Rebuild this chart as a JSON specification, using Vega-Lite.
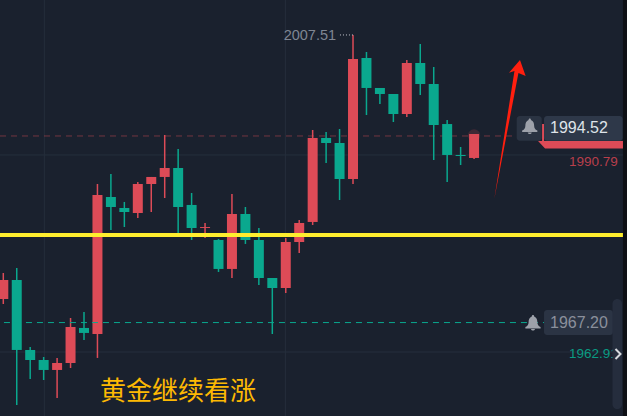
{"$schema":"https://vega.github.io/schema/vega-lite/v6.json","width":627,"height":416,"padding":0,"autosize":{"type":"none"},"background":"#1a212e","config":{"view":{"stroke":null},"axis":{"disable":true},"legend":{"disable":true},"text":{"font":"Liberation Sans"},"scale":{"continuousPadding":0}},
"datasets":{"one":[{}],"gridx":[{"gx":3.05},{"gx":20.97}],"gridy":[{"gy":1991.74},{"gy":1962.89}],
"candles":[
{"i":0,"open":1970.65,"high":1974.46,"low":1969.92,"close":1973.43},
{"i":1,"open":1973.43,"high":1975.19,"low":1955.13,"close":1963.19},
{"i":2,"open":1963.19,"high":1963.63,"low":1958.94,"close":1961.72},
{"i":3,"open":1961.72,"high":1962.16,"low":1958.79,"close":1960.26},
{"i":4,"open":1960.26,"high":1962.02,"low":1956.16,"close":1961.28},
{"i":5,"open":1961.28,"high":1967.87,"low":1960.55,"close":1966.55},
{"i":6,"open":1966.41,"high":1968.75,"low":1964.65,"close":1965.68},
{"i":7,"open":1965.53,"high":1987.49,"low":1962.02,"close":1985.88},
{"i":8,"open":1985.59,"high":1988.95,"low":1980.76,"close":1984.12},
{"i":9,"open":1983.98,"high":1984.86,"low":1981.19,"close":1983.39},
{"i":10,"open":1983.24,"high":1987.78,"low":1982.51,"close":1987.49},
{"i":11,"open":1987.49,"high":1988.52,"low":1983.39,"close":1988.52},
{"i":12,"open":1988.52,"high":1994.66,"low":1985.44,"close":1989.83},
{"i":13,"open":1989.83,"high":1992.61,"low":1980.17,"close":1984.12},
{"i":14,"open":1984.42,"high":1986.17,"low":1979.29,"close":1981.05},
{"i":15,"open":1981.05,"high":1981.78,"low":1979.58,"close":1981.19},
{"i":16,"open":1979.29,"high":1979.44,"low":1974.61,"close":1975.05},
{"i":17,"open":1975.05,"high":1986.03,"low":1973.73,"close":1983.1},
{"i":18,"open":1983.1,"high":1984.12,"low":1978.71,"close":1979.29},
{"i":19,"open":1979.29,"high":1981.05,"low":1972.7,"close":1973.73},
{"i":20,"open":1973.73,"high":1973.73,"low":1965.53,"close":1972.26},
{"i":21,"open":1972.26,"high":1979.58,"low":1971.53,"close":1979},
{"i":22,"open":1979,"high":1982.22,"low":1977.39,"close":1981.78},
{"i":23,"open":1981.93,"high":1995.4,"low":1981.49,"close":1994.23},
{"i":24,"open":1994.23,"high":1995.1,"low":1990.57,"close":1993.49},
{"i":25,"open":1993.49,"high":1995.54,"low":1985.15,"close":1988.22},
{"i":26,"open":1988.22,"high":2009.31,"low":1987.49,"close":2005.79},
{"i":27,"open":2005.94,"high":2006.82,"low":1997.59,"close":2001.55},
{"i":28,"open":2001.55,"high":2001.55,"low":1999.2,"close":2000.67},
{"i":29,"open":2000.67,"high":2000.67,"low":1996.57,"close":1997.74},
{"i":30,"open":1997.74,"high":2005.65,"low":1997.3,"close":2005.21},
{"i":31,"open":2005.21,"high":2007.99,"low":2000.52,"close":2002.13},
{"i":32,"open":2002.13,"high":2004.62,"low":1991,"close":1996.13},
{"i":33,"open":1996.27,"high":1996.86,"low":1987.78,"close":1991.74},
{"i":34,"open":1991.74,"high":1992.91,"low":1990.27,"close":1991.59},
{"i":35,"open":1991.3,"high":1994.81,"low":1991.15,"close":1994.81}
]},
"layer":[
{"data":{"name":"gridx"},"mark":{"type":"rule","stroke":"#252e3c","strokeWidth":1},"encoding":{"x":{"field":"gx","type":"quantitative","scale":{"domain":[-0.245,46.37],"nice":false,"zero":false,"padding":0}}}},
{"data":{"name":"gridy"},"mark":{"type":"rule","stroke":"#252e3c","strokeWidth":1},"encoding":{"y":{"field":"gy","type":"quantitative","scale":{"domain":[1953.52,2014.43],"nice":false,"zero":false,"padding":0}}}},
{"data":{"name":"one"},"mark":{"type":"rule","stroke":"#dd4b57","opacity":0.45,"strokeWidth":1,"strokeDash":[6,5]},"encoding":{"x":{"datum":-0.245},"x2":{"datum":38.2},"y":{"datum":1994.52}}},
{"data":{"name":"candles"},"mark":{"type":"rule","strokeWidth":1.5},"encoding":{"x":{"field":"i","type":"quantitative"},"y":{"field":"low","type":"quantitative"},"y2":{"field":"high"},"color":{"condition":{"test":"datum.close>=datum.open","value":"#dd4b57"},"value":"#0aa88e"}}},
{"data":{"name":"candles"},"mark":{"type":"bar","width":10},"encoding":{"x":{"field":"i","type":"quantitative"},"y":{"field":"open","type":"quantitative"},"y2":{"field":"close"},"color":{"condition":{"test":"datum.close>=datum.open","value":"#dd4b57"},"value":"#0aa88e"}}},
{"data":{"name":"one"},"mark":{"type":"point","filled":true,"size":150,"opacity":0.2,"color":"#dd4b57","stroke":null},"encoding":{"x":{"datum":35},"y":{"datum":1994.6}}},
{"data":{"name":"one"},"mark":{"type":"point","filled":true,"size":60,"opacity":1,"color":"#dd4b57","stroke":null},"encoding":{"x":{"datum":35},"y":{"datum":1994.05}}},
{"data":{"name":"one"},"mark":{"type":"rule","stroke":"#0aa88e","strokeWidth":1,"strokeDash":[6,5]},"encoding":{"x":{"datum":0.05},"x2":{"datum":40.2},"y":{"datum":1967.2}}},
{"data":{"name":"one"},"mark":{"type":"rule","stroke":"#ffee2e","strokeWidth":4},"encoding":{"x":{"datum":-0.245},"x2":{"datum":46.07},"y":{"datum":1980.02}}},
{"data":{"name":"one"},"mark":{"type":"rule","stroke":"#c5c8cf","strokeWidth":1,"strokeDash":[1,2]},"encoding":{"x":{"datum":25.03},"x2":{"datum":26},"y":{"datum":2009.31}}},
{"data":{"name":"one"},"mark":{"type":"text","text":"2007.51","align":"right","baseline":"middle","fontSize":14.5,"color":"#7f8693"},"encoding":{"x":{"datum":24.74},"y":{"datum":2009.16}}},
{"data":{"name":"one"},"mark":{"type":"point","filled":true,"opacity":1,"size":19600,"color":"#ff1f0f","stroke":null,"shape":"M0.143,-1 L0.224,-0.771 L0.121,-0.814 L-0.224,0.986 L0.064,-0.843 L-0.014,-0.819 Z"},"encoding":{"x":{"datum":37.67},"y":{"datum":1995.4}}},
{"data":{"name":"one"},"mark":{"type":"point","filled":true,"opacity":1,"size":8100,"color":"#dd4b57","stroke":null,"shape":"M-0.844,-0.267 L-0.8,-0.267 L-0.8,0.111 L0.956,0.111 L0.956,0.278 L-0.778,0.278 L-0.933,0.111 L-0.844,0.111 Z"},"encoding":{"x":{"datum":42.88},"y":{"datum":1994.52}}},
{"data":{"name":"one"},"mark":{"type":"rect","color":"#2a3342","cornerRadius":3},"encoding":{"x":{"datum":38.17},"x2":{"datum":40.03},"y":{"datum":1997.45},"y2":{"datum":1993.83}}},
{"data":{"name":"one"},"mark":{"type":"rect","color":"#2e3849","cornerRadius":3},"encoding":{"x":{"datum":40.2},"x2":{"datum":46.05},"y":{"datum":1997.45},"y2":{"datum":1993.83}}},
{"data":{"name":"one"},"mark":{"type":"rect","color":"#2b3444","cornerRadius":3},"encoding":{"x":{"datum":40.2},"x2":{"datum":45.33},"y":{"datum":1969.04},"y2":{"datum":1965.38}}},
{"data":{"name":"one"},"mark":{"type":"point","filled":true,"opacity":1,"size":256,"color":"#9da1aa","stroke":null,"shape":"M0,-1 C0.1,-1 0.15,-0.92 0.15,-0.82 C0.45,-0.7 0.55,-0.4 0.55,-0.1 C0.55,0.2 0.65,0.35 0.95,0.5 L0.95,0.68 L-0.95,0.68 L-0.95,0.5 C-0.65,0.35 -0.55,0.2 -0.55,-0.1 C-0.55,-0.4 -0.45,-0.7 -0.15,-0.82 C-0.15,-0.92 -0.1,-1 0,-1 Z M-0.25,0.75 L0.25,0.75 C0.2,1 -0.2,1 -0.25,0.75 Z"},"encoding":{"x":{"datum":39.14},"y":{"datum":1995.91}}},
{"data":{"name":"one"},"mark":{"type":"point","filled":true,"opacity":1,"size":256,"color":"#9da1aa","stroke":null,"shape":"M0,-1 C0.1,-1 0.15,-0.92 0.15,-0.82 C0.45,-0.7 0.55,-0.4 0.55,-0.1 C0.55,0.2 0.65,0.35 0.95,0.5 L0.95,0.68 L-0.95,0.68 L-0.95,0.5 C-0.65,0.35 -0.55,0.2 -0.55,-0.1 C-0.55,-0.4 -0.45,-0.7 -0.15,-0.82 C-0.15,-0.92 -0.1,-1 0,-1 Z M-0.25,0.75 L0.25,0.75 C0.2,1 -0.2,1 -0.25,0.75 Z"},"encoding":{"x":{"datum":39.38},"y":{"datum":1967.14}}},
{"data":{"name":"one"},"mark":{"type":"text","text":"1994.52","align":"left","baseline":"middle","fontSize":16,"color":"#dfe3e8"},"encoding":{"x":{"datum":40.65},"y":{"datum":1995.69}}},
{"data":{"name":"one"},"mark":{"type":"text","text":"1967.20","align":"left","baseline":"middle","fontSize":16,"color":"#8a909c"},"encoding":{"x":{"datum":40.65},"y":{"datum":1967.2}}},
{"data":{"name":"one"},"mark":{"type":"text","text":"1990.79","align":"left","baseline":"middle","fontSize":13.5,"color":"#b83f4c"},"encoding":{"x":{"datum":42.06},"y":{"datum":1990.71}}},
{"data":{"name":"one"},"mark":{"type":"text","text":"1962.91","align":"left","baseline":"middle","fontSize":13.5,"color":"#0a9b83"},"encoding":{"x":{"datum":42.06},"y":{"datum":1962.6}}},
{"data":{"name":"one"},"mark":{"type":"rect","color":"#252d3d","cornerRadius":5},"encoding":{"x":{"datum":45.29},"x2":{"datum":46},"y":{"datum":1970.65},"y2":{"datum":1954.55}}},
{"data":{"name":"one"},"mark":{"type":"point","filled":false,"opacity":1,"size":100,"stroke":"#d5d8dd","strokeWidth":2,"shape":"M-0.5,-1 L0.5,0 L-0.5,1"},"encoding":{"x":{"datum":45.7},"y":{"datum":1962.6}}},
{"data":{"name":"one"},"mark":{"type":"rect","color":"#0e1015"},"encoding":{"x":{"datum":46.07},"x2":{"datum":46.37},"y":{"datum":1953.52},"y2":{"datum":2014.43}}},
{"data":{"name":"one"},"mark":{"type":"text","text":"黄金继续看涨","font":"Noto Sans CJK SC","align":"left","baseline":"middle","fontSize":26,"color":"#fdb903"},"encoding":{"x":{"datum":7.19},"y":{"datum":1957.04}}}
]}
